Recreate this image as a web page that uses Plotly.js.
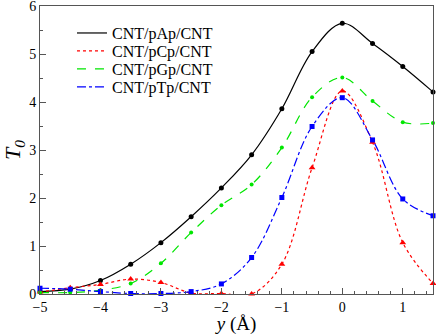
<!DOCTYPE html>
<html>
<head>
<meta charset="utf-8">
<script src="https://cdn.plot.ly/plotly-3.0.1.min.js"></script>
<style>
  html, body { margin: 0; padding: 0; background: #fff; }
  #chart { width: 436px; height: 335px; }
</style>
</head>
<body>
<div id="chart"></div>
<script>
// Position along y (Angstrom), sampled every 0.5
const yPos = [-5, -4.5, -4, -3.5, -3, -2.5, -2, -1.5, -1, -0.5, 0, 0.5, 1, 1.5];

// Transmission T0 for each junction
const tA = [0.05, 0.1, 0.28, 0.62, 1.07, 1.61, 2.21, 2.9, 3.86, 5.05, 5.64, 5.22, 4.74, 4.21];
const tC = [0.04, 0.13, 0.2, 0.31, 0.24, 0.02, 0.01, 0.0, 0.62, 2.63, 4.23, 3.16, 1.07, 0.22];
const tG = [0.03, 0.03, 0.08, 0.22, 0.64, 1.28, 1.85, 2.28, 3.05, 4.1, 4.51, 4.02, 3.58, 3.56];
const tT = [0.12, 0.1, 0.05, 0.01, 0.01, 0.05, 0.21, 0.76, 2.01, 3.49, 4.09, 3.21, 1.98, 1.63];

const seriesNames = ["CNT/pAp/CNT", "CNT/pCp/CNT", "CNT/pGp/CNT", "CNT/pTp/CNT"];
const seriesValues = [tA, tC, tG, tT];
const seriesColors = ["#000000", "#ff0000", "#00e600", "#0000ff"];
const seriesDash = ["solid", "dot", "dash", "dashdot"];
const seriesSymbols = ["circle", "triangle-up", "circle", "square"];
const symbolSizes = [5, 6, 4, 5];

const serif = "Liberation Serif, Times New Roman, serif";

// one legend box per series so the rows can sit as tight as in the original
const legendIds = ["legend", "legend2", "legend3", "legend4"];
const legendRowY = [0.906, 0.844, 0.781, 0.719];

const traces = [];
// line traces (these carry the legend)
seriesValues.forEach((vals, i) => {
  traces.push({
    x: yPos,
    y: vals,
    type: "scatter",
    mode: "lines",
    name: seriesNames[i],
    legend: legendIds[i],
    line: { color: seriesColors[i], width: 1.2, dash: seriesDash[i], shape: "spline", smoothing: 1 },
    cliponaxis: false,
  });
});
// marker traces (no legend entry, like the original)
seriesValues.forEach((vals, i) => {
  traces.push({
    x: yPos,
    y: vals,
    type: "scatter",
    mode: "markers",
    showlegend: false,
    marker: { color: seriesColors[i], size: symbolSizes[i], symbol: seriesSymbols[i] },
    cliponaxis: false,
  });
});

const layout = {
  width: 436,
  height: 335,
  margin: { l: 40, r: 3, t: 6, b: 41 },
  paper_bgcolor: "#fff",
  plot_bgcolor: "#fff",
  font: { family: serif, color: "#000", size: 14 },
  showlegend: true,
  xaxis: {
    range: [-5, 1.5],
    dtick: 1,
    tick0: -5,
    ticks: "inside",
    ticklen: 6,
    tickcolor: "#555",
    showline: true,
    linecolor: "#555",
    linewidth: 1,
    mirror: true,
    showgrid: false,
    zeroline: false,
    ticklabeloverflow: "allow",
    tickfont: { family: serif, size: 14 },
    minor: { dtick: 0.2, ticks: "inside", ticklen: 3, tickcolor: "#555", showgrid: false },
    title: { text: "<i>y</i> (Å)", font: { family: serif, size: 19 }, standoff: 4 },
  },
  yaxis: {
    range: [0, 6],
    dtick: 1,
    ticks: "inside",
    ticklen: 6,
    tickcolor: "#555",
    showline: true,
    linecolor: "#555",
    linewidth: 1,
    mirror: true,
    showgrid: false,
    zeroline: false,
    ticklabeloverflow: "allow",
    tickfont: { family: serif, size: 14 },
    minor: { dtick: 0.5, ticks: "inside", ticklen: 3, tickcolor: "#555", showgrid: false },
    title: { text: "<i>T</i><sub><i>0</i></sub>", font: { family: serif, size: 22 }, standoff: 6 },
  },
};

legendIds.forEach((id, i) => {
  layout[id] = {
    x: 0.0814,
    y: legendRowY[i],
    xanchor: "left",
    yanchor: "middle",
    bgcolor: "rgba(0,0,0,0)",
    borderwidth: 0,
    font: { family: serif, size: 16, color: "#000" },
    itemwidth: 30,
  };
});

Plotly.newPlot("chart", traces, layout, { staticPlot: true, displayModeBar: false });
</script>
</body>
</html>
